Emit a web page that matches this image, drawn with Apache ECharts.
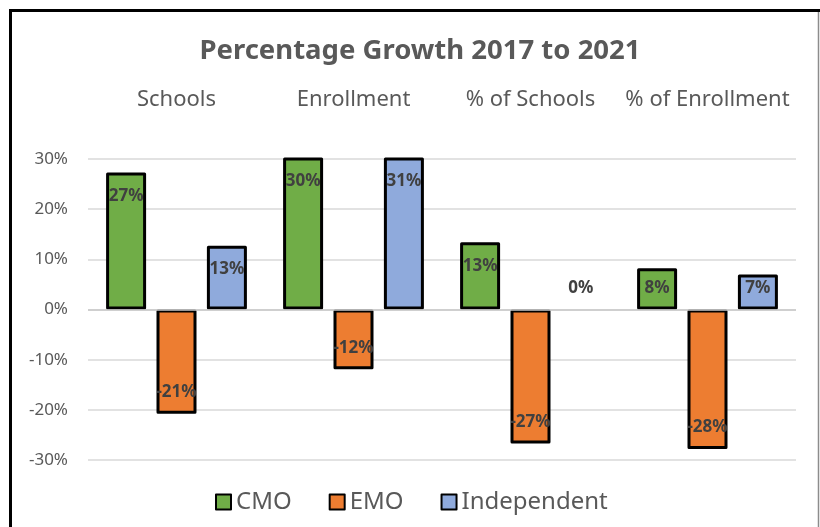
<!DOCTYPE html>
<html>
<head>
<meta charset="utf-8">
<title>Percentage Growth 2017 to 2021</title>
<script src="https://cdn.jsdelivr.net/npm/echarts@6/dist/echarts.min.js"></script>
<style>
  html, body { margin: 0; padding: 0; background: #ffffff; }
  #chart { width: 820px; height: 527px; }
</style>
</head>
<body>
<div id="chart"></div>
<script>
// Growth measures, 2017 -> 2021 (percent)
const categories = ['Schools', 'Enrollment', '% of Schools', '% of Enrollment'];
const seriesNames = ['CMO', 'EMO', 'Independent'];
const cmoValues = [27.3, 30.3, 13.4, 8.2];
const emoValues = [-20.8, -11.9, -26.7, -27.8];
const independentValues = [12.7, 30.7, 0, 7.0];
const yTicks = [-30, -20, -10, 0, 10, 20, 30];

const colors = ['#70ad47', '#ed7d31', '#8faadc'];
const textGray = '#595959';
const font = '"Noto Sans", "DejaVu Sans", sans-serif';

// Value labels sit just inside the bar end; short positive bars keep the label near the baseline.
function labelFor(v) {
  const base = {
    show: true,
    formatter: Math.round(v) + '%',
    color: '#404040',
    fontFamily: font,
    fontWeight: 'bold',
    fontSize: 17
  };
  if (v < 0) return Object.assign(base, { position: 'insideBottom', distance: 13 });
  if (v >= 9.2) return Object.assign(base, { position: 'insideTop', distance: 15 });
  return Object.assign(base, { position: 'insideBottom', distance: 13 });
}

function buildSeries(name, values, color, withZeroLine) {
  const s = {
    name: name,
    type: 'bar',
    barWidth: 40,
    barGap: '26%',
    itemStyle: {
      color: color,
      borderColor: '#000000',
      borderWidth: 3,
      borderJoin: 'round'
    },
    data: values.map(v => ({
      value: v,
      label: labelFor(v),
      itemStyle: v === 0 ? { borderWidth: 0 } : undefined
    }))
  };
  if (withZeroLine) {
    s.markLine = {
      silent: true,
      symbol: 'none',
      label: { show: false },
      lineStyle: { color: '#c8c8c8', width: 1.5, type: 'solid' },
      z: 10,
      data: [{ yAxis: 0 }]
    };
  }
  return s;
}

const chart = echarts.init(document.getElementById('chart'), null, { renderer: 'canvas' });

chart.setOption({
  animation: false,
  backgroundColor: '#ffffff',
  title: {
    text: 'Percentage Growth 2017 to 2021',
    left: 415,
    top: 32,
    textAlign: 'center',
    textStyle: {
      color: textGray,
      fontFamily: font,
      fontWeight: 'bold',
      fontSize: 27.5
    }
  },
  legend: {
    data: seriesNames,
    left: 210,
    top: 485,
    icon: 'rect',
    itemWidth: 15,
    itemHeight: 15,
    itemGap: 37,
    textStyle: {
      color: textGray,
      fontFamily: font,
      fontSize: 24
    }
  },
  grid: {
    left: 88,
    right: 24,
    top: 159,
    bottom: 67,
    containLabel: false
  },
  xAxis: {
    type: 'category',
    data: categories,
    position: 'top',
    axisLine: { show: false },
    axisTick: { show: false },
    axisLabel: {
      interval: 0,
      color: textGray,
      fontFamily: font,
      fontSize: 22,
      margin: 59,
      verticalAlign: 'middle'
    }
  },
  yAxis: {
    type: 'value',
    min: yTicks[0],
    max: yTicks[yTicks.length - 1],
    interval: 10,
    axisLine: { show: false },
    axisTick: { show: false },
    splitLine: { lineStyle: { color: '#d9d9d9', width: 1.5 } },
    axisLabel: {
      color: textGray,
      fontFamily: font,
      fontSize: 17,
      margin: 20,
      formatter: v => v + '%'
    }
  },
  graphic: [
    {
      type: 'polyline',
      silent: true,
      z: 100,
      shape: { points: [[10.5, 600], [10.5, 10.5], [820, 10.5]] },
      style: { stroke: '#000000', lineWidth: 3, fill: null }
    },
    {
      type: 'line',
      silent: true,
      z: 100,
      shape: { x1: 818.5, y1: 12, x2: 818.5, y2: 527 },
      style: { stroke: '#8c8c8c', lineWidth: 1.5 }
    }
  ],
  series: [
    buildSeries(seriesNames[0], cmoValues, colors[0], false),
    buildSeries(seriesNames[1], emoValues, colors[1], false),
    buildSeries(seriesNames[2], independentValues, colors[2], true)
  ]
});
</script>
</body>
</html>
